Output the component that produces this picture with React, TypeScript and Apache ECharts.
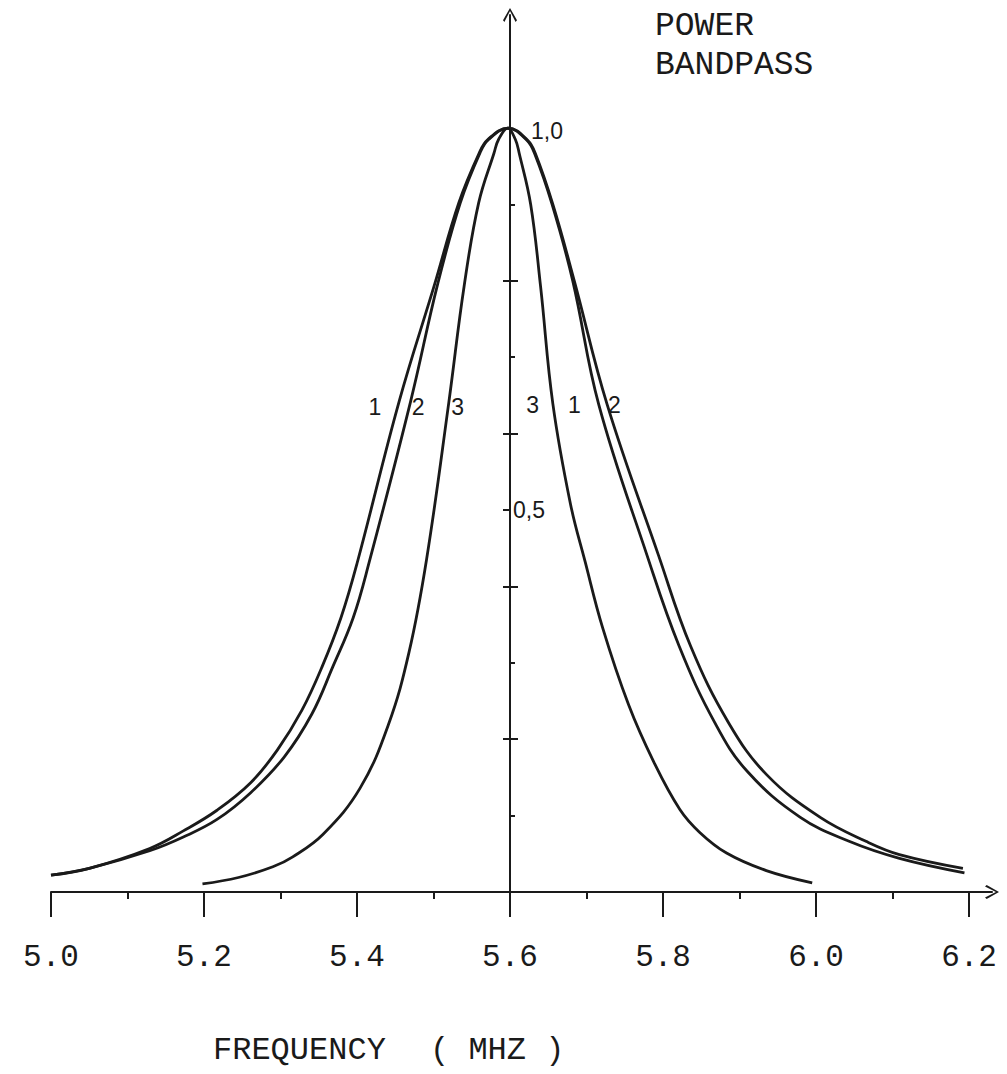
import React, { useEffect, useRef } from "react";
import * as echarts from "echarts";

// ---- data (frequency in MHz, relative power) ----
const X_TICKS = [5.0, 5.2, 5.4, 5.6, 5.8, 6.0, 6.2];
const X_MINOR = [5.1, 5.3, 5.5, 5.7, 5.9, 6.1];
const Y_MAJOR = [0.2, 0.4, 0.6, 0.8];
const Y_MINOR = [0.1, 0.3, 0.7, 0.9];
const Y_LEFT_TICKS = [0.2, 0.4, 0.5, 0.6, 0.8];
const Y_LABELS = [0.5, 1.0];

const CURVE_1: [number, number][] = [
  [5.0, 0.022], [5.05, 0.031], [5.129, 0.057], [5.173, 0.08], [5.217, 0.107],
  [5.261, 0.143], [5.296, 0.186], [5.328, 0.238], [5.354, 0.294], [5.379, 0.359],
  [5.4, 0.43], [5.455, 0.642], [5.501, 0.794], [5.533, 0.902], [5.56, 0.968],
  [5.571, 0.985], [5.597, 1.0], [5.622, 0.984], [5.632, 0.967], [5.655, 0.9],
  [5.682, 0.8], [5.716, 0.638], [5.779, 0.441], [5.821, 0.322], [5.868, 0.221],
  [5.91, 0.158], [5.979, 0.098], [6.044, 0.066], [6.109, 0.044], [6.194, 0.025],
];

const CURVE_2: [number, number][] = [
  [5.0, 0.022], [5.05, 0.031], [5.129, 0.054], [5.173, 0.072], [5.217, 0.095],
  [5.261, 0.13], [5.305, 0.177], [5.341, 0.233], [5.368, 0.294], [5.395, 0.359],
  [5.416, 0.432], [5.47, 0.642], [5.505, 0.794], [5.535, 0.902], [5.561, 0.968],
  [5.572, 0.985], [5.598, 1.0], [5.623, 0.984], [5.633, 0.967], [5.656, 0.9],
  [5.684, 0.8], [5.727, 0.638], [5.794, 0.441], [5.836, 0.322], [5.886, 0.221],
  [5.936, 0.153], [6.005, 0.098], [6.066, 0.066], [6.109, 0.049], [6.192, 0.031],
];

const CURVE_3: [number, number][] = [
  [5.198, 0.0105], [5.245, 0.019], [5.29, 0.033], [5.316, 0.046], [5.356, 0.076],
  [5.404, 0.136], [5.441, 0.219], [5.468, 0.314], [5.491, 0.436], [5.52, 0.641],
  [5.54, 0.793], [5.559, 0.902], [5.579, 0.967], [5.585, 0.985], [5.597, 1.0],
  [5.607, 0.985], [5.612, 0.967], [5.627, 0.9], [5.64, 0.792], [5.656, 0.639],
  [5.679, 0.508], [5.698, 0.433], [5.721, 0.346], [5.755, 0.245], [5.788, 0.17],
  [5.822, 0.108], [5.848, 0.078], [5.883, 0.051], [5.935, 0.028], [5.995, 0.012],
];

const CURVE_LABELS: [number, number, string][] = [
  [5.4235, 0.635, "1"],
  [5.48, 0.635, "2"],
  [5.5316, 0.635, "3"],
  [5.6297, 0.637, "3"],
  [5.684, 0.637, "1"],
  [5.7363, 0.637, "2"],
];

const INK = "#1a1a1a";
const MONO = "'Liberation Mono', 'DejaVu Sans Mono', monospace";
const SANS = "'Liberation Sans', Arial, sans-serif";
const ARROW = "path://M50,0 L100,88 L90,100 L50,22 L10,100 L0,88 Z";

export default function App() {
  const ref = useRef<HTMLDivElement>(null);

  useEffect(() => {
    if (!ref.current) return;
    const chart = echarts.init(ref.current, undefined, { renderer: "svg" });

    const lineSeries = (name: string, data: [number, number][]) => ({
      name,
      type: "line",
      xAxisIndex: 0,
      yAxisIndex: 0,
      data,
      symbol: "none",
      smooth: 0.4,
      clip: false,
      lineStyle: { color: INK, width: 2.8 },
      z: 5,
    });

    chart.setOption({
      animation: false,
      backgroundColor: "#ffffff",
      grid: [
        { left: 51, top: 15, width: 941, height: 877 },
        { left: 510, top: 15, width: 100, height: 877 },
      ],
      xAxis: [
        {
          type: "value",
          gridIndex: 0,
          min: 5.0,
          max: 6.23,
          interval: 0.2,
          position: "bottom",
          splitLine: { show: false },
          axisLine: {
            show: true,
            symbol: ["none", ARROW],
            symbolSize: [14, 16],
            lineStyle: { color: INK, width: 2 },
          },
          axisTick: {
            show: true,
            customValues: X_TICKS,
            length: 25,
            lineStyle: { color: INK, width: 2 },
          },
          axisLabel: {
            show: true,
            customValues: X_TICKS,
            formatter: (v: number) => v.toFixed(1),
            margin: 50,
            fontFamily: MONO,
            fontSize: 31,
            color: INK,
          },
        },
        {
          type: "value",
          gridIndex: 0,
          min: 5.0,
          max: 6.23,
          interval: 0.2,
          position: "bottom",
          splitLine: { show: false },
          axisLine: { show: false },
          axisTick: {
            show: true,
            customValues: X_MINOR,
            length: 7,
            lineStyle: { color: INK, width: 2 },
          },
          axisLabel: { show: false },
        },
        {
          type: "value",
          gridIndex: 1,
          min: 0,
          max: 1,
          show: false,
        },
      ],
      yAxis: [
        {
          type: "value",
          gridIndex: 0,
          min: 0,
          max: 1.148,
          show: false,
        },
        {
          type: "value",
          gridIndex: 1,
          min: 0,
          max: 1.148,
          position: "left",
          splitLine: { show: false },
          axisLine: {
            show: true,
            symbol: ["none", ARROW],
            symbolSize: [14, 18],
            lineStyle: { color: INK, width: 2 },
          },
          axisTick: {
            show: true,
            customValues: Y_LEFT_TICKS,
            length: 7,
            lineStyle: { color: INK, width: 2 },
          },
          axisLabel: {
            show: true,
            inside: true,
            customValues: Y_LABELS,
            margin: 3,
            formatter: (v: number) =>
              v >= 0.99 ? "{p|" + v.toFixed(1).replace(".", ",") + "}" : v.toFixed(1).replace(".", ","),
            fontFamily: SANS,
            fontSize: 23,
            color: INK,
            rich: {
              p: { padding: [6, 0, 0, 18], fontFamily: SANS, fontSize: 23, color: INK },
            },
          },
        },
        {
          type: "value",
          gridIndex: 1,
          min: 0,
          max: 1.148,
          position: "left",
          splitLine: { show: false },
          axisLine: { show: false },
          axisTick: {
            show: true,
            inside: true,
            customValues: Y_MAJOR,
            length: 8,
            lineStyle: { color: INK, width: 2 },
          },
          axisLabel: { show: false },
        },
        {
          type: "value",
          gridIndex: 1,
          min: 0,
          max: 1.148,
          position: "left",
          splitLine: { show: false },
          axisLine: { show: false },
          axisTick: {
            show: true,
            inside: true,
            customValues: Y_MINOR,
            length: 5,
            lineStyle: { color: INK, width: 2 },
          },
          axisLabel: { show: false },
        },
      ],
      graphic: [
        {
          type: "text",
          left: 655,
          top: 10,
          style: { text: "POWER", font: `33px ${MONO}`, fill: INK },
        },
        {
          type: "text",
          left: 655,
          top: 49,
          style: { text: "BANDPASS", font: `33px ${MONO}`, fill: INK },
        },
        {
          type: "text",
          left: 213,
          top: 1034,
          style: { text: "FREQUENCY", font: `32px ${MONO}`, fill: INK },
        },
        {
          type: "text",
          left: 430,
          top: 1034,
          style: { text: "( MHZ )", font: `32px ${MONO}`, fill: INK },
        },
      ],
      series: [
        lineSeries("1", CURVE_1),
        lineSeries("2", CURVE_2),
        lineSeries("3", CURVE_3),
        {
          name: "labels",
          type: "scatter",
          xAxisIndex: 0,
          yAxisIndex: 0,
          data: CURVE_LABELS,
          symbolSize: 0,
          silent: true,
          itemStyle: { opacity: 1 },
          label: {
            show: true,
            position: "inside",
            formatter: (p: any) => p.data[2],
            fontFamily: SANS,
            fontSize: 23,
            color: INK,
            opacity: 1,
          },
        },
      ],
    });

    return () => chart.dispose();
  }, []);

  return (
    <div
      ref={ref}
      style={{ position: "absolute", left: 0, top: 0, width: 1007, height: 1074, background: "#fff" }}
    />
  );
}
